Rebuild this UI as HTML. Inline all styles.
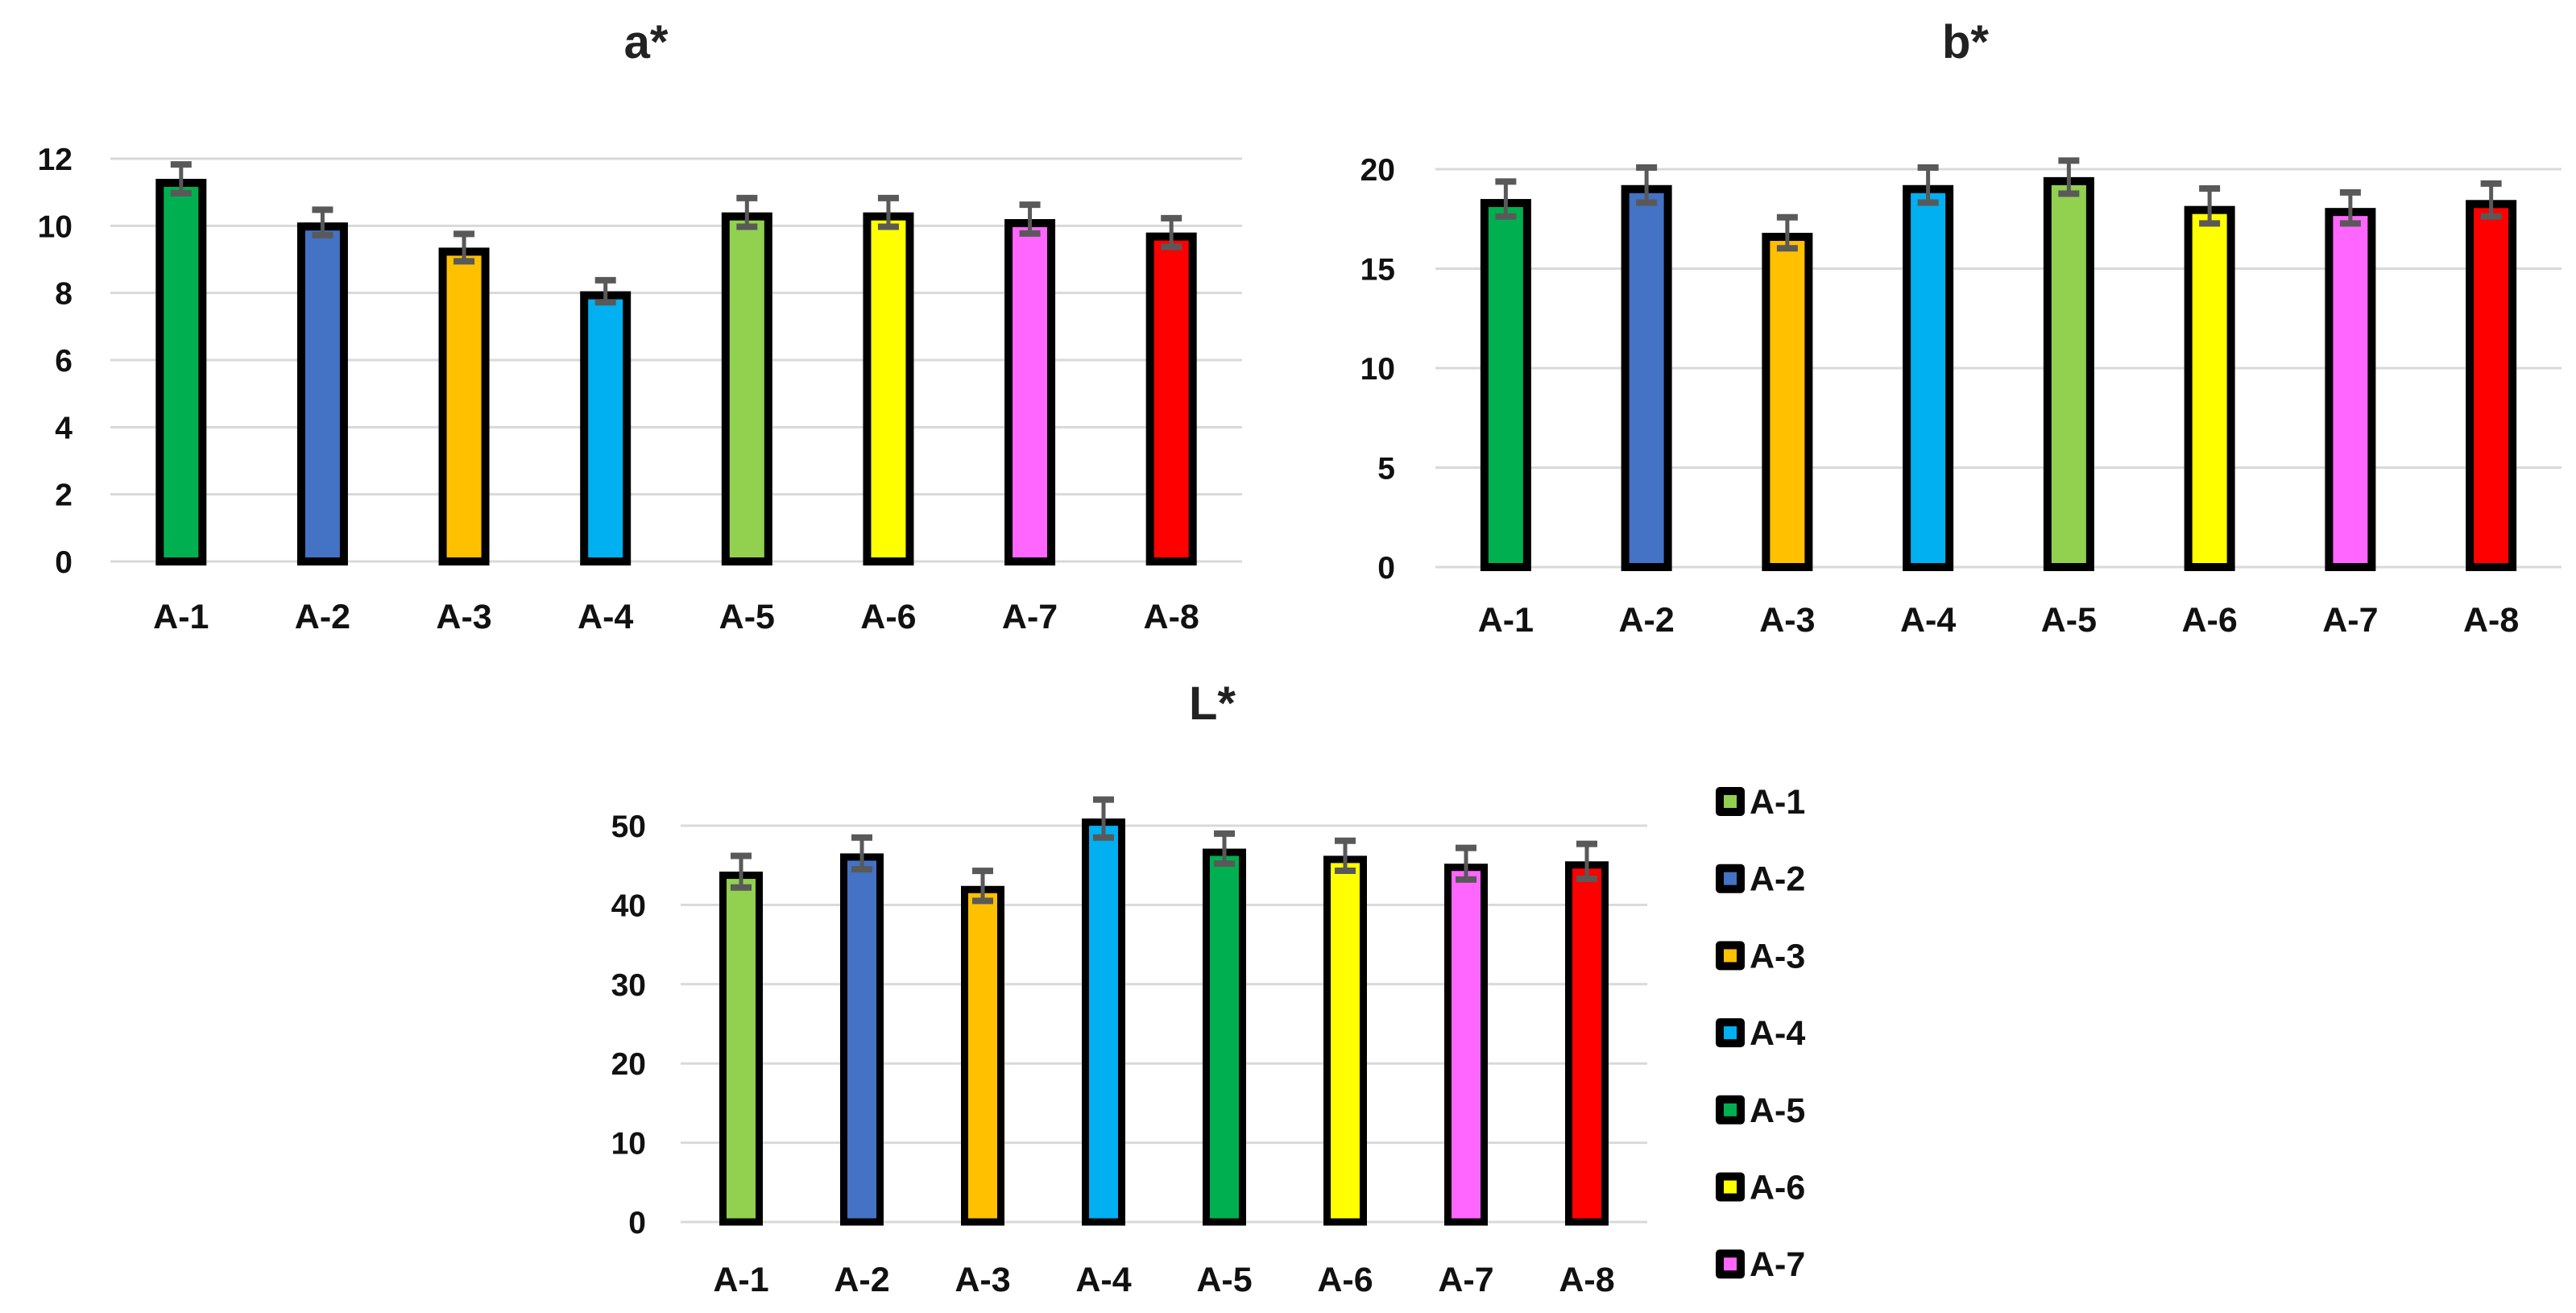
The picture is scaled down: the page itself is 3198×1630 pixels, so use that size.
<!DOCTYPE html>
<html><head><meta charset="utf-8"><style>
html,body{margin:0;padding:0;background:#fff;}
svg{display:block;font-family:"Liberation Sans",sans-serif;font-weight:bold;}
</style></head><body>
<svg id="fig" width="3198" height="1630" viewBox="0 0 3198 1630" xmlns="http://www.w3.org/2000/svg"></svg>
<script>
const categories = ["A-1","A-2","A-3","A-4","A-5","A-6","A-7","A-8"];
const aValues = [11.4,10.1,9.35,8.05,10.4,10.4,10.2,9.8];
const aErrors = [0.5,0.45,0.48,0.4,0.5,0.5,0.5,0.5];
const aTicks = [0,2,4,6,8,10,12];
const bValues = [18.5,19.2,16.8,19.2,19.6,18.15,18.05,18.45];
const bErrors = [1.0,1.0,0.9,1.0,0.95,1.0,0.9,0.95];
const bTicks = [0,5,10,15,20];
const lValues = [44.2,46.5,42.4,50.9,47.1,46.2,45.2,45.5];
const lErrors = [2.3,2.3,2.2,2.7,2.2,2.2,2.3,2.5];
const lTicks = [0,10,20,30,40,50];
const colorsAB = ["#00b050","#4472c4","#ffc000","#00b0f0","#92d050","#ffff00","#ff66ff","#ff0000"];
const colorsL = ["#92d050","#4472c4","#ffc000","#00b0f0","#00b050","#ffff00","#ff66ff","#ff0000"];
const legendLabels = ["A-1","A-2","A-3","A-4","A-5","A-6","A-7"];

const NS = "http://www.w3.org/2000/svg";
const svg = document.getElementById("fig");
function mk(tag, attrs, parent){
  const e = document.createElementNS(NS, tag);
  for (const k in attrs) e.setAttribute(k, attrs[k]);
  (parent||svg).appendChild(e);
  return e;
}

function drawChart(cfg){
  const g = mk("g", {});
  
  
  const y = v => cfg.y0 - (v - 0) / cfg.maxV * (cfg.y0 - cfg.yTop);
  const band = (cfg.xR - cfg.xL) / cfg.cats.length;
  const x = i => cfg.xL + band * (i + 0.5);
  const t = mk("text", {x: cfg.titleX, y: cfg.titleY, "font-size": 58, "text-anchor": "middle", fill: "#222"}, g);
  t.textContent = cfg.title;
  
  
  cfg.ticks.forEach(tv => {
    const gl = mk("line", {x1: cfg.xL, x2: cfg.xR, y1: y(tv), y2: y(tv), stroke: "#d9d9d9", "stroke-width": 3}, g);
    
    
    const tl = mk("text", {x: cfg.labelX, y: y(tv) + 14, "font-size": 39, "text-anchor": "end", fill: "#111"}, g);
    tl.textContent = tv;
    
    
  });
  cfg.vals.forEach((v, i) => {
    const bw = cfg.barW, sw = cfg.border;
    const r = mk("rect", {x: x(i) - bw/2 + sw/2, y: y(v) + sw/2, width: bw - sw, height: y(0) - y(v) - sw/2, fill: cfg.colors[i], stroke: "#000", "stroke-width": sw}, g);
    
    
    const e = cfg.errs[i];
    const eg = mk("g", {stroke: "#595959"}, g);
    
    
    mk("line", {x1: x(i), x2: x(i), y1: y(v + e), y2: y(v - e), "stroke-width": 5}, eg);
    mk("line", {x1: x(i) - 13, x2: x(i) + 13, y1: y(v + e) + 3, y2: y(v + e) + 3, "stroke-width": 8}, eg);
    mk("line", {x1: x(i) - 13, x2: x(i) + 13, y1: y(v - e) - 3, y2: y(v - e) - 3, "stroke-width": 8}, eg);
    const cl = mk("text", {x: x(i), y: cfg.catY + 15, "font-size": 43, "text-anchor": "middle", fill: "#111"}, g);
    cl.textContent = cfg.cats[i];
    
    
  });
}

drawChart({name: "a-star", title: "a*", titleX: 802, titleY: 72, vals: aValues, errs: aErrors, ticks: aTicks, maxV: 12,
  cats: categories, colors: colorsAB, xL: 137, xR: 1542, y0: 697, yTop: 197, labelX: 90, catY: 765, barW: 63, border: 10});
drawChart({name: "b-star", title: "b*", titleX: 2440, titleY: 72, vals: bValues, errs: bErrors, ticks: bTicks, maxV: 20,
  cats: categories, colors: colorsAB, xL: 1782, xR: 3180, y0: 704, yTop: 210, labelX: 1732, catY: 769, barW: 63, border: 10});
drawChart({name: "l-star", title: "L*", titleX: 1505, titleY: 893, vals: lValues, errs: lErrors, ticks: lTicks, maxV: 50,
  cats: categories, colors: colorsL, xL: 845, xR: 2045, y0: 1517, yTop: 1025, labelX: 802, catY: 1588, barW: 54, border: 9});

const lg = mk("g", {});


legendLabels.forEach((lab, i) => {
  const cy = 995 + i * 95.7;
  const eg = mk("g", {}, lg);
  
  
  mk("rect", {x: 2130, y: cy - 18, width: 36, height: 36, rx: 5, fill: "#000"}, eg);
  mk("rect", {x: 2140, y: cy - 8, width: 16, height: 16, fill: colorsL[i]}, eg);
  const t = mk("text", {x: 2172, y: cy + 15, "font-size": 43, fill: "#111"}, eg);
  t.textContent = lab;
});
</script>
</body></html>
